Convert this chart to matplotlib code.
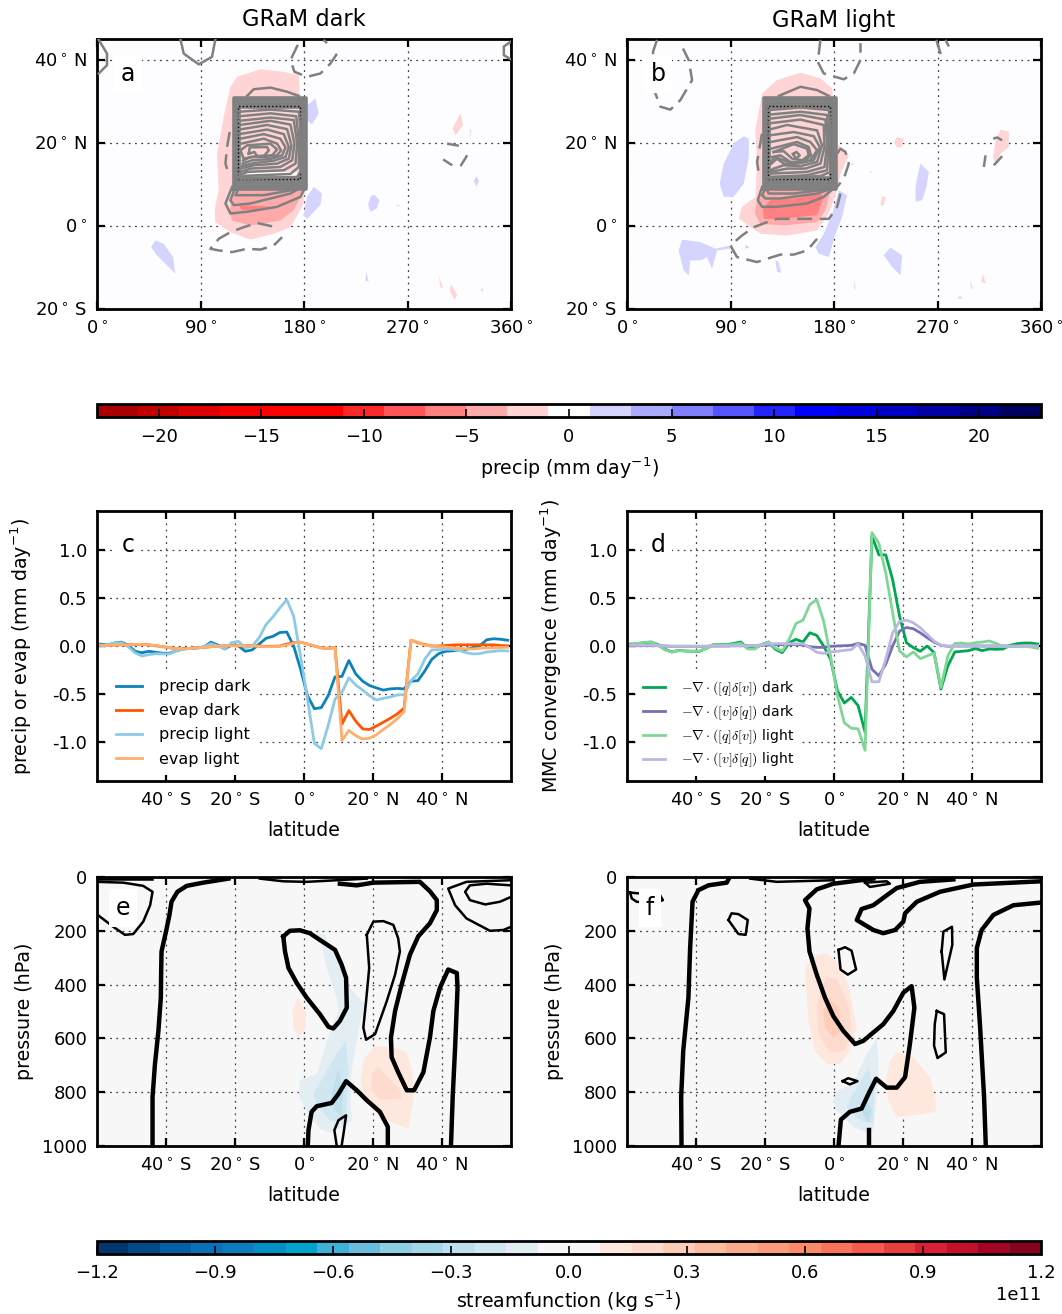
import numpy as np
import matplotlib
matplotlib.use('Agg')
import matplotlib.pyplot as plt
from matplotlib.colors import BoundaryNorm, ListedColormap
from matplotlib.cm import ScalarMappable

# ── Line panels (c, d): latitude grid and series ─────────────────────────────
lat = list(range(-59, 60, 2))

precip_dark = [.02, .01, .03, .04, .01, -.055, -.07, -.055, -.065, -.075, -.075, -.05, -.03, -.025, -.02,
               -.01, .04, .01, -.03, .01, 0, -.055, -.04, .02, .08, .1, .14, .145, 0, -.24,
               -.515, -.65, -.64, -.515, -.32, -.315, -.15, -.29, -.365, -.41, -.435, -.457, -.445, -.44, -.445,
               -.365, -.36, -.26, -.14, -.08, -.055, -.05, -.04, -.035, -.015, .005, .065, .075, .07, .06]
precip_light = [0, .007, .03, .034, -.007, -.07, -.103, -.09, -.08, -.082, -.082, -.05, -.034, -.024, -.024,
                -.007, .024, 0, -.03, .034, .048, -.017, 0, .086, .223, .302, .395, .48, .31, -.103,
                -.55, -1.01, -1.065, -.825, -.55, -.48, -.33, -.405, -.457, -.515, -.56, -.543, -.529, -.508, -.505,
                -.361, -.29, -.137, -.041, -.038, -.034, -.034, -.045, -.07, -.082, -.079, -.062, -.055, -.048, -.052]
evap_dark = [.01, .005, .01, .012, .012, .017, .017, .012, .003, -.007, -.017, -.03, -.03, -.024, -.017,
             -.014, -.007, -.003, .003, .003, .003, .003, .003, 0, -.003, -.003, 0, .02, .035, .04,
             .02, 0, -.02, -.024, -.017, -.81, -.67, -.78, -.86, -.866, -.83, -.79, -.75, -.705, -.645,
             .06, .035, .015, 0, 0, .005, .01, .012, .012, .012, .012, .012, .012, .005, 0]
evap_light = [.01, .005, .01, .012, .012, .017, .017, .012, .003, -.007, -.017, -.03, -.03, -.024, -.017,
              -.014, -.007, -.003, .003, .003, .003, .003, 0, -.003, -.007, -.007, -.003, .01, .03, .04,
              .02, 0, -.02, -.024, -.017, -.98, -.875, -.93, -.965, -.955, -.92, -.865, -.815, -.755, -.68,
              .06, .04, .01, 0, -.007, -.01, -.017, -.024, -.03, -.03, -.024, -.02, -.02, -.014, -.014]

mmc_q_dark = [.02, .024, .034, .041, .014, -.034, -.062, -.045, -.052, -.055, -.055, -.024, .014, .014, .014,
              .027, .041, -.027, -.021, .014, .041, -.034, -.069, .034, .069, .041, .137, .11, 0, -.137,
              -.464, -.591, -.533, -.619, -.893, 1.141, .945, .945, .687, .309, .034, -.017, -.055, 0, -.069,
              -.447, -.206, -.062, -.055, -.048, -.027, -.048, -.031, -.034, -.031, .007, .024, .031, .031, .021]
mmc_q_light = [.014, .027, .038, .041, .007, -.041, -.062, -.048, -.052, -.055, -.052, -.024, .014, .01, .01,
               .017, .027, -.031, -.031, .014, .041, -.021, -.052, .069, .234, .268, .43, .481, .258, -.103,
               -.515, -.797, -.852, -.859, -1.082, 1.175, 1.065, .756, .344, -.052, -.113, -.062, -.131, -.103, -.076,
               -.43, -.103, .027, .031, .021, .034, .041, .052, .027, -.007, -.007, -.003, -.003, -.01, -.024]
mmc_v_dark = [.003, .003, .003, .003, .003, 0, -.003, -.003, -.003, -.003, -.003, -.003, 0, 0, 0,
              .003, .003, .003, .003, .007, .01, .014, .014, .014, .017, .01, -.007, -.014, -.014, -.003,
              0, .003, .007, .027, .007, -.241, -.309, -.189, 0, .155, .192, .179, .137, .086, .041,
              .007, -.003, 0, 0, 0, 0, 0, 0, 0, 0, 0, 0, 0, 0, 0]
mmc_v_light = [.007, .007, .007, .007, .003, 0, -.003, -.003, -.003, -.003, -.003, -.003, 0, 0, .003,
               .003, .003, .003, .003, .014, .021, .024, .024, .024, .024, .024, -.017, -.065, -.076, -.062,
               -.055, -.045, -.038, .021, -.103, -.371, -.371, -.137, .137, .254, .268, .241, .189, .12, .052,
               .007, -.003, 0, 0, 0, 0, 0, 0, 0, 0, 0, 0, 0, 0, 0]

# ── Map panels (a, b): precip bands as (value, outline), lon/lat ──────────────
map_a_fills = [
    (-2, [(142, 37.7), (162.3, 37.1), (175.4, 36.3), (176.3, 31.1), (181.2, 8.6), (178.3, 4.6), (168.1, -.3),
          (153.6, -1.9), (133.4, -3.3), (116, -1.5), (102.9, .9), (102.3, 3.8), (105.8, 8.6), (104.4, 17.4),
          (110.2, 26.3), (116, 33.5), (121.8, 35.9)]),
    (-4, [(118.9, 8.6), (179.7, 8.6), (171, 3.8), (159.4, 1.3), (133.4, .1), (117.4, 1.3), (115.4, 3.8)]),
    (-6, [(123.2, 5), (150.8, 4.7), (136.3, 3.9), (126.2, 3.8)]),
    (0, [(130.5, 13), (174, 13), (174, 11.8), (130.5, 11.8)]),
    (2, [(189.9, 30.7), (192.8, 27.1), (187, 24.4), (182.6, 25.5), (183.2, 29.1)]),
    (2, [(188.4, 9.4), (195.7, 7.8), (194.2, 5), (182.6, 1.7), (179.7, 2.5), (182.6, 7)]),
    (2, [(240.6, 7.6), (245.8, 6.2), (243.4, 4.2), (237.8, 3.4), (235.7, 5), (237.8, 7)]),
    (2, [(261, 5.2), (263.8, 4.9), (261, 4.8)]),
    (2, [(329.9, 12), (332.2, 10.8), (329.9, 9.5), (327.6, 10.8)]),
    (2, [(50.7, -3.5), (58, -4.3), (66.1, -7.5), (68.1, -11.5), (63.8, -10.3), (52.2, -7.1), (47, -5.1)]),
    (2, [(234, -11.1), (236.3, -13.5), (233.4, -13.1)]),
    (2, [(334.8, -14.6), (335.7, -15.7), (334, -15.7)]),
    (-2, [(316, 27.1), (318.3, 24.3), (311.7, 21.8), (309.4, 23.5)]),
    (-2, [(324.1, 23.3), (325.3, 23), (323.8, 20.6)]),
    (-2, [(297.2, -11.9), (300.9, -15.1), (298.6, -14.7)]),
    (-2, [(307.9, -14.1), (313.2, -16.7), (310.8, -17.8), (306.7, -15.5)]),
]
map_b_fills = [
    (-2, [(150.8, 36.9), (168.2, 35.5), (178.4, 33.1), (182.7, 19.8), (192.9, 17), (185.6, 12.6), (182.7, 8.6),
          (175.5, 3), (165.3, -1.1), (139.2, -2.3), (116, -1.9), (97.2, 1.8), (100, 4.6), (111.7, 7), (113.1, 15),
          (111.6, 23), (117.5, 31.9), (130.5, 35.1)]),
    (-4, [(176.9, 8.6), (172.6, 3.8), (165.3, .9), (136.3, .1), (116, .5), (111, 3), (113.1, 6.2), (118.9, 8.6)]),
    (-6, [(168.2, 7.8), (171, 7), (165.3, 2.6), (133.4, 1.7), (118.9, 1.7), (118.3, 4.2), (124.7, 6.2), (145, 6.6)]),
    (2, [(101.5, 21.6), (105.9, 21), (105.9, 16.6), (101.5, 10.2), (92.8, 7), (84.1, 7), (80.6, 10.2), (84.1, 15),
         (92.8, 19.8)]),
    (2, [(184.2, 8.6), (191.4, 7.4), (187, 2.1), (181.3, -1.9), (175.5, -7.5), (166.8, -6.7), (163.9, -5.1),
         (171.1, -1.9), (178.4, 2.9)]),
    (2, [(255.2, 15), (262.5, 13), (260.4, 9.4), (256.7, 6.2), (250.9, 5.8), (250.9, 9.4), (253.8, 13.4)]),
    (2, [(229, -5.2), (239.2, -7.1), (237.8, -11.9), (230.6, -9.9), (223.3, -7.1)]),
    (2, [(47.9, -3.3), (63.8, -3.9), (76.9, -5.5), (89.9, -4.7), (89.9, -5.5), (78.3, -5.9), (74, -10.3),
         (69.6, -7.5), (63.8, -8.3), (55.1, -8.3), (53.7, -11.9), (49.3, -10.7), (44.9, -5.9)]),
    (2, [(129, -8.3), (131.9, -8.7), (134.2, -11.3), (130.5, -11.1)]),
    (2, [(102.9, -4.5), (106.7, -5.2), (102.9, -5.5)]),
    (2, [(289.4, -16.7), (291.5, -17.5), (287.7, -17.5)]),
    (-2, [(234.9, 21.4), (240.7, 21), (239.2, 19), (234.9, 18.9), (232, 20.2)]),
    (-2, [(324.8, 23.2), (332, 22.7), (332, 19), (324.8, 17.4), (320.5, 15), (318.4, 16.6), (320.5, 20.6)]),
    (-2, [(221.9, 7.1), (224.8, 7), (223.3, 5), (220.4, 5)]),
    (-2, [(298.1, -13.1), (300.9, -15.1), (299.3, -15.1)]),
    (-2, [(309.4, -11.5), (311.8, -13.8), (307.9, -13.5)]),
    (-2, [(197.2, -13.1), (199.2, -15.5), (197.2, -14.7)]),
    (-2, [(195.8, 15.2), (197.7, 14.8), (194.9, 14.6)]),
    (-2, [(211.7, 13.2), (213.2, 12.8), (210.3, 12.8)]),
]

# crowded contours along the heating box edge (nested rectangles)
frame_west = [119.5, 120.5, 121.5, 122.5, 123.5]
frame_east = [181.5, 180.5, 179.5, 178.5, 177]
frame_south = [8.9, 9.6, 10.3, 11, 11.6]
frame_north = [30.9, 30.3, 29.7, 29.1, 28.6]

map_a_solid = [
    [(123.8, 27.5), (150.8, 28), (175.5, 27.5), (176.9, 23.1), (177.5, 13.4), (174, 11.8), (133.4, 11.4), (123.8, 11.4)],
    [(123.8, 26.4), (150.8, 27.1), (173.2, 26.4), (175.5, 20.6), (175.5, 14.2), (168.2, 12.5), (130.5, 12.1), (123.8, 11.8)],
    [(123.8, 25.3), (150.8, 26.1), (171.1, 25.5), (174, 19.8), (172.6, 15), (162.4, 13.4), (130.5, 13), (123.8, 12.2)],
    [(123.8, 24.3), (150.8, 25.3), (168.2, 24.4), (171.7, 19.8), (169.7, 15.8), (159.5, 14.2), (133.4, 13.8), (124.7, 13)],
    [(123.8, 23.2), (147.9, 24.3), (165.3, 23.3), (169.1, 19.4), (166.8, 16.2), (156.6, 15), (136.3, 14.6), (125.3, 13.8)],
    [(123.8, 22.1), (147.9, 23.2), (162.4, 22.1), (166.8, 19), (163.9, 16.6), (153.7, 15.7), (136.3, 15.1), (126.2, 14.4)],
    [(124.7, 21), (145, 22.1), (159.5, 21), (163.9, 18.9), (161, 17), (150.8, 16.1), (134.9, 15.8), (126.7, 15)],
    [(125.3, 19.8), (145, 21), (156.6, 19.8), (160.1, 18.2), (156.6, 17), (147.9, 16.6), (133.4, 16.6), (127, 15.7)],
    [(127.6, 16.2), (124.7, 18.2), (130.5, 19.4), (150.8, 19.8), (156.6, 18.4), (152.3, 17), (139.2, 16.8), (127.6, 16.2)],
    [(132, 17.4), (132.8, 18.9), (147.9, 19), (149.4, 18.2), (145, 16.8), (139.2, 16.8), (136.9, 17.8), (132, 17.4)],
    [(117.5, 9.4), (111.7, 5.4), (116, 3), (130.5, 3.4), (156.6, 4.6), (176.9, 7), (181.3, 9.4)],
    [(120.4, 9.4), (116, 6.2), (118.9, 5), (133.4, 5.4), (168.2, 7.8), (178.4, 9.4)],
    [(123.3, 9), (120.4, 7.4), (145, 7.4), (171.1, 8.7)],
    [(130.5, 31.3), (136.3, 32.9), (150.8, 33.3), (165.3, 32.3), (175.5, 31.3)],
    [(72.5, 45), (75.4, 41.5), (88.5, 38.9), (100, 40.7), (103, 45)],
    [(1.5, 44.8), (8.7, 41.5), (8.7, 38.7), (1.5, 36.7)],
    [(360, 44.4), (353.8, 43.2), (353.8, 41.1), (360, 40.1)],
]
map_a_dashed = [
    [(115.4, 22.6), (113.1, 19), (111.7, 15), (114.6, 12.4)],
    [(152.3, -.1), (139.2, .7), (127.6, -.3), (116, -1.5), (105.9, -3.1), (98.6, -5.5), (105.9, -5.9), (117.5, -6.3),
     (130.5, -5.5), (142.1, -5.7), (153.7, -4.7), (161, -2.7)],
    [(174.6, 43.6), (168.2, 39.9), (171.7, 37.1), (182.7, 35.9), (194.3, 36.7), (203, 39.1), (208.8, 41.5)],
    [(197, 44.8), (200, 44)],
    [(304.5, 19.8), (314.7, 19.3)],
    [(301, 16), (308.9, 14.6)],
    [(316.1, 14.4), (321.9, 17)],
]
map_b_solid = [
    [(123.8, 27.9), (150.8, 28.5), (175.5, 27.9), (176.9, 23.1), (176.9, 13), (168.2, 12), (123.8, 11.4)],
    [(123.8, 26.8), (150.8, 27.5), (174, 26.7), (175.5, 20.6), (174, 13.4), (156.6, 12.2), (124.7, 11.8)],
    [(123.8, 25.8), (150.8, 26.7), (172.6, 25.6), (174, 19.8), (171.7, 14.2), (156.6, 13), (124.7, 12.6)],
    [(123.8, 24.7), (150.8, 25.6), (171.1, 24.3), (171.7, 19), (168.2, 15), (155.1, 13.8), (139.2, 13.8), (124.7, 13)],
    [(123.8, 23.2), (139.2, 24.3), (165.3, 23), (169.6, 19.4), (165.3, 15.4), (150.8, 14.4), (136.3, 14.6), (127.6, 13.8), (124.1, 13.2)],
    [(123.8, 21.8), (145, 22.6), (162.4, 21.6), (167.6, 19), (162.4, 15.8), (147.9, 15), (136.3, 15), (130.5, 16.2), (123.8, 14.6)],
    [(124.7, 20.2), (147.9, 21.4), (159.5, 20.2), (165.3, 18.2), (159.5, 15.8), (145, 15), (136.3, 15.8), (129, 16.6), (124.7, 15.4)],
    [(125.3, 18.6), (147.9, 20.2), (158, 19), (160, 17), (153.7, 15.4), (142.1, 15.4), (133.4, 17), (126, 16.6)],
    [(127.6, 17.8), (145, 19.7), (156.6, 18.6), (158, 17), (152.3, 15.8), (143.6, 16.2), (136.3, 18), (127.6, 17.8)],
    [(144.4, 17.3), (147.3, 17.8), (150.2, 17), (147.3, 16.2), (144.4, 17.3)],
    [(117.5, 9.4), (113.7, 6.2), (117.5, 4.6), (130.5, 4.6), (156.6, 5.4), (171.1, 7), (181.3, 9.4)],
    [(120.4, 9), (117.5, 7.4), (120.4, 6.6), (133.4, 6.6), (165.3, 7.8), (178.4, 9)],
    [(121.8, 8.6), (123.3, 7.8), (145, 7.8), (168.2, 8.6)],
    [(132, 31.3), (150.8, 33.5), (165.3, 32.7), (175.5, 31.3)],
]
map_b_dashed = [
    [(26.1, 44.8), (22.6, 41.9), (24.7, 31.9), (29, 28.7), (37.7, 28), (46.4, 30.3), (56.6, 35.1), (53.7, 39.9), (48.7, 42.7)],
    [(168.2, 44.8), (165.9, 39.5), (171.1, 36.7), (188.5, 35.3), (197.2, 36.7), (203, 39.9), (203, 44)],
    [(269, 44.8), (274, 40.3)],
    [(276.9, 44.8), (279.9, 43.2)],
    [(117.4, 22.2), (113.1, 15.4), (114.6, 12.6)],
    [(182.7, 17.4), (185.6, 18.6), (190, 17.8), (192.9, 15), (188.5, 11.4), (182.7, 9.4)],
    [(185.6, 7.8), (182.7, 4.6), (175.5, 1.7), (150.8, 1.7), (130.5, 1.7), (121.8, .9), (110.2, -.3), (100, -2.3),
     (89.9, -4.7), (95.7, -7.5), (113.1, -8.7), (121.8, -7.9), (133.4, -6.9), (145, -6.9), (156.6, -5.9), (165.3, -3.1)],
    [(318.4, 21), (321.9, 21.3), (326.2, 20.6)],
    [(311.8, 17), (310.3, 14.2)],
    [(326.2, 16.8), (319, 14.6)],
]

# ── Streamfunction panels (e, f): bands in 1e11 kg/s, contours, lat/pressure ──
sf_e_fills = [
    (-.12, [(3.7, 213), (6.1, 215), (7.5, 264), (10.4, 326), (13.3, 412), (17.7, 474), (16.2, 547), (14.8, 646),
            (13.8, 720), (13.5, 818), (13.8, 904), (11.4, 929), (7.5, 951), (4.6, 935), (.8, 873), (-1.4, 818),
            (-1.2, 756), (3.7, 732), (6.1, 633), (8, 560), (10, 498), (9.5, 449), (7.5, 375), (6.1, 314), (5.1, 252)]),
    (-.2, [(12.2, 609), (12.9, 720), (12.4, 818), (12.4, 916), (7.5, 904), (3.7, 843), (2.7, 806), (5.6, 744), (9.5, 658)]),
    (-.28, [(10, 713), (11.4, 793), (10.9, 892), (9, 867), (8, 806)]),
    (.12, [(20.1, 630), (25.9, 633), (29.8, 652), (31.5, 732), (31.7, 830), (30.2, 935), (24, 904), (20.1, 867),
           (17.2, 818), (16.4, 756), (17.2, 683)]),
    (.2, [(21.5, 707), (27.8, 793), (28.3, 824), (22, 828), (19.6, 793), (19.6, 732)]),
    (.12, [(-1.9, 449), (.3, 498), (.6, 560), (-1.6, 594), (-3.1, 560), (-3.3, 498)]),
]
sf_f_fills = [
    (.12, [(-8.4, 338), (-6, 292), (-2.1, 283), (.8, 314), (4.2, 400), (6.6, 560), (4.6, 646), (1.7, 695), (-2.1, 695),
           (-5.5, 646), (-7.4, 535)]),
    (.2, [(-2.3, 369), (.8, 381), (4.2, 474), (5.1, 560), (3.2, 646), (-1.2, 652), (-4.5, 584), (-5, 474)]),
    (.28, [(-1.6, 449), (1.3, 486), (2.2, 572), (-.2, 597), (-2.6, 560), (-3.1, 498)]),
    (.12, [(18.2, 652), (23, 670), (27.8, 744), (29.8, 843), (29.3, 873), (23, 886), (18.2, 892), (15.7, 830),
           (15.1, 756), (16.2, 683)]),
    (-.12, [(12.4, 597), (12.9, 695), (12.4, 818), (11.4, 941), (10, 953), (5.6, 929), (.8, 867), (-.2, 830),
            (1.3, 793), (5.6, 769), (8.5, 683)]),
    (-.2, [(10, 707), (11.6, 793), (11.4, 916), (7.5, 904), (3.7, 855), (5.6, 806), (8, 756)]),
    (-.28, [(9.5, 830), (10.9, 867), (10, 916), (8, 867)]),
]
sf_e_thick = [
    [(-43.9, 1000), (-43.9, 818), (-43.2, 695), (-42.2, 572), (-41.5, 449), (-41.4, 350), (-41.3, 277), (-40, 203),
     (-39, 141), (-38.4, 92), (-36.7, 55), (-34, 33), (-29.2, 21), (-21.9, 6)],
    [(-6, 221), (-4.1, 200), (-1.2, 198), (1.7, 209), (4.6, 234), (9, 271), (10.9, 326), (12.2, 375), (12.4, 486),
     (10.4, 535), (8.5, 563), (7.1, 557), (4.6, 510), (.8, 449), (-2.1, 394), (-4.5, 338), (-5.5, 277), (-6, 221)],
    [(24.3, 1000), (24.3, 929), (22, 873), (18.2, 830), (15.3, 793), (12.2, 759), (10, 806), (8, 840), (3.7, 852),
     (2.2, 873), (1.3, 941), (1.1, 1000)],
    [(10.4, 25), (15.3, 31), (20.1, 21), (33.6, 18), (36.5, 53), (38.5, 86), (38.5, 123), (36.5, 172), (33.1, 221),
     (30.7, 289), (28.3, 400), (26.4, 498), (25.2, 597), (25.4, 670), (27.3, 726), (29.8, 793), (31.9, 793), (34.6, 726),
     (36.5, 597), (37.5, 498), (39.4, 412), (41.8, 344), (44.3, 357), (44.5, 412), (43.8, 633), (43.1, 818), (42.6, 1000)],
]
sf_e_thin = [
    [(-60, 18), (-52.4, 21), (-46.6, 33), (-43.9, 55), (-44.6, 105), (-46.6, 166), (-49.5, 212), (-51.9, 215), (-55.3, 185), (-60, 139)],
    [(-60, 8), (-44, 8)],
    [(18.2, 215), (20.1, 166), (23, 164), (25.9, 178), (27.3, 228), (27.8, 277), (26.4, 363), (24, 461), (20.6, 584),
     (18, 605), (17.2, 560), (18, 461), (18.9, 338), (18.2, 215)],
    [(59.9, 12), (47.1, 18), (41.8, 43), (43.8, 105), (47.1, 154), (53.9, 200), (57.8, 197), (60, 185)],
    [(60, 31), (52.9, 25), (48.1, 31), (46.7, 55), (48.1, 86), (52.5, 102), (56.8, 92), (60, 74)],
    [(-12.8, 6), (-6, 16), (.8, 18), (9.5, 12), (18.2, 6)],
    [(9.5, 1000), (8.8, 941), (10, 904), (12.2, 886), (11.6, 941), (10.9, 1000)],
]
sf_f_thick = [
    [(-44.2, 1000), (-44.3, 818), (-43.7, 646), (-42.2, 449), (-41.7, 264), (-41, 92), (-39.3, 49), (-36.4, 31),
     (-31.1, 21), (-30.6, 9)],
    [(11.4, 6), (-.2, 25), (-5, 46), (-8.4, 86), (-7.1, 117), (-7.7, 191), (-7.1, 277), (-5, 363), (-2.6, 449), (-.2, 517),
     (2.7, 572), (6.1, 621), (8.5, 609), (14.3, 547), (17.2, 498), (20.1, 430), (22.5, 406), (23.3, 486), (22, 621),
     (20.6, 744), (18.2, 783), (15.3, 783), (12.2, 750), (10, 806), (8, 861), (4.6, 873), (2, 902), (1.3, 1000)],
    [(60, 16), (40.4, 28), (30.7, 55), (24, 92), (20.6, 135), (20.1, 166), (17.7, 197), (14.3, 209), (11.4, 197), (6.6, 160),
     (8, 119), (11.4, 105), (15.3, 68), (18.2, 41), (24.9, 18), (34.6, 9)],
    [(44, 1000), (43.5, 818), (42.3, 547), (41.4, 375), (41.4, 264), (42.8, 197), (46.2, 141), (52, 105), (60, 95)],
    [(10, 1000), (10, 941)],
]
sf_f_thin = [
    [(-30.6, 160), (-29.7, 135), (-27.7, 138), (-25, 160), (-25.6, 215), (-27.7, 212), (-30.6, 160)],
    [(1.3, 271), (3.2, 261), (5.1, 274), (6.4, 344), (4, 363), (1.9, 344), (1.3, 271)],
    [(31.2, 277), (31.7, 203), (34.2, 185), (34.3, 252), (32, 381), (31.2, 277)],
    [(29.8, 498), (31.9, 510), (32.4, 652), (30, 673), (29, 627), (29.2, 547), (29.8, 498)],
    [(2.5, 759), (4.1, 748), (6.8, 759), (4.6, 771), (2.5, 759)],
    [(-59.1, 58), (-50.4, 68), (-49.6, 86), (-52.4, 98), (-57.2, 92), (-58.6, 80), (-59.1, 58)],
    [(-24.3, 6), (-16.6, 18), (-.2, 12)],
    [(9, 21), (15.3, 16), (16.2, 25), (10.4, 37), (9, 21)],
]

# ── Tick labels and colour levels ─────────────────────────────────────────────
map_xticks = [0, 90, 180, 270, 360]
map_yticks = [-20, 0, 20, 40]
map_ylabels = ['$20^\\circ$\u2009S', '$0^\\circ$', '$20^\\circ$\u2009N', '$40^\\circ$\u2009N']
map_xlabels = ['$0^\\circ$', '$90^\\circ$', '$180^\\circ$', '$270^\\circ$', '$360^\\circ$']
lat_ticks = [-40, -20, 0, 20, 40]
lat_labels = ['$40^\\circ$\u2009S', '$20^\\circ$\u2009S', '$0^\\circ$', '$20^\\circ$\u2009N', '$40^\\circ$\u2009N']
flux_ticks = [-1.0, -0.5, 0.0, 0.5, 1.0]
pressure_ticks = [0, 200, 400, 600, 800, 1000]
precip_levels = np.arange(-23, 24, 2)
precip_ticks = [-20, -15, -10, -5, 0, 5, 10, 15, 20]
precip_colors = ['#AA0000', '#C30000', '#DC0000', '#F30000', '#FF0000', '#FF0000', '#FF2828', '#FF5555',
                 '#FF8080', '#FFAAAA', '#FFD4D4', '#FFFFFF', '#D4D4FF', '#AAAAFF', '#8080FF', '#5555FF',
                 '#2424FF', '#0000FF', '#0000E1', '#0000C3', '#0000A5', '#000087', '#00005F']
sf_levels = np.arange(-15, 16) * 0.08e11
sf_ticks = np.arange(-4, 5) * 0.3e11
sf_colors = ['#03356E', '#004A8C', '#0060A8', '#0A70B8', '#0A7FC0', '#0090C4', '#00A3CE', '#3FB0D6',
             '#68BEDC', '#8ACFE4', '#A4D6E8', '#BDE0EC', '#D0E6F1', '#E2EEF4', '#F7F7F7',
             '#F7F7F7', '#FEE8DE', '#FDDCCF', '#FDCDB8', '#FDBB9F', '#FDAB8C', '#FD9A78', '#FC8A69',
             '#FA7358', '#F4594C', '#E83E3F', '#D91F34', '#C30F2A', '#A40527', '#860220']

# ── Style ─────────────────────────────────────────────────────────────────────
plt.rcParams['font.size'] = 13
plt.rcParams['font.family'] = ['DejaVu Sans']

W, H = 1062, 1314
fig = plt.figure(figsize=(W / 100, H / 100), dpi=100)


def add_axes_px(left, top, right, bottom):
    return fig.add_axes([left / W, 1 - bottom / H, (right - left) / W, (bottom - top) / H])


def precip_color(v):
    return precip_colors[int(np.searchsorted(precip_levels, v)) - 1]


def sf_color(v):
    return sf_colors[int(np.searchsorted(sf_levels, v * 1e11)) - 1]


def style_axes(ax, letter, lx, ly):
    for s in ax.spines.values():
        s.set_linewidth(2)
    ax.tick_params(direction='in', top=True, right=True, length=6, width=1.6, pad=8, labelsize=13)
    ax.tick_params(axis='y', pad=7)
    ax.grid(True, linestyle=(0, (1.5, 3.5)), color='#444444', linewidth=0.9, zorder=1)
    ax.set_axisbelow(True)
    ax.text(lx, ly, letter, transform=ax.transAxes, fontsize=17, va='center', ha='center', zorder=6,
            bbox=dict(facecolor='white', edgecolor='none', pad=5))


def draw_map(ax, fills, solid, dashed, title, letter):
    ax.set_facecolor('#FDFDFF')
    for v, outline in fills:
        xs, ys = zip(*outline)
        ax.fill(xs, ys, color=precip_color(v), linewidth=0, zorder=2)
    for w, e, s, n in zip(frame_west, frame_east, frame_south, frame_north):
        ax.plot([w, e, e, w, w], [s, s, n, n, s], color='gray', lw=2.6, zorder=3)
    ax.plot([123, 176.5, 176.5, 123, 123], [11.2, 11.2, 28.8, 28.8, 11.2], color='k', lw=1, ls=':', zorder=3)
    for line in solid:
        xs, ys = zip(*line)
        ax.plot(xs, ys, color='gray', lw=1.8, zorder=4)
    for line in dashed:
        xs, ys = zip(*line)
        ax.plot(xs, ys, color='gray', lw=1.8, dashes=(6, 3), zorder=4)
    ax.set_xlim(0, 360)
    ax.set_ylim(-20, 45)
    ax.set_xticks(map_xticks)
    ax.set_xticklabels(map_xlabels)
    ax.set_yticks(map_yticks)
    ax.set_yticklabels(map_ylabels)
    ax.set_title(title, fontsize=16.3, pad=9)
    style_axes(ax, letter, 0.075, 0.87)


def draw_lat_axis(ax):
    ax.set_xlim(-60, 60)
    ax.set_xticks(lat_ticks)
    ax.set_xticklabels(lat_labels)
    ax.set_xlabel('latitude', fontsize=13.7, labelpad=8)


def draw_lines(ax, series, ylabel, letter, fontsize, spacing, anchor, math=False):
    for values, color, label in series:
        ax.plot(lat, np.array(values), color=color, lw=2, label=label, zorder=3)
    draw_lat_axis(ax)
    ax.set_ylim(-1.4, 1.4)
    ax.set_yticks(flux_ticks)
    ax.set_yticklabels(['%.1f' % t for t in flux_ticks])
    ax.set_ylabel(ylabel, fontsize=13.7)
    ax.yaxis.set_label_coords(-0.152, 0.5)
    style_axes(ax, letter, 0.075, 0.875)
    leg = ax.legend(loc='lower left', bbox_to_anchor=anchor, fontsize=fontsize, labelspacing=spacing, borderpad=0.5,
                    handlelength=1.6, handletextpad=1.1, frameon=True, facecolor='white', edgecolor='none',
                    framealpha=1, borderaxespad=0)
    if math:
        for t in leg.get_texts():
            t.set_math_fontfamily('cm')


def draw_sf(ax, fills, thick, thin, letter, lx, ly):
    ax.set_facecolor('#F7F7F7')
    for v, outline in fills:
        xs, ys = zip(*outline)
        ax.fill(xs, ys, color=sf_color(v), linewidth=0, zorder=2)
    for line in thick:
        xs, ys = zip(*line)
        ax.plot(xs, ys, color='k', lw=3.2, zorder=4)
    for line in thin:
        xs, ys = zip(*line)
        ax.plot(xs, ys, color='k', lw=1.8, zorder=4)
    draw_lat_axis(ax)
    ax.set_ylim(1000, 0)
    ax.set_yticks(pressure_ticks)
    ax.set_ylabel('pressure (hPa)', fontsize=13.7)
    ax.yaxis.set_label_coords(-0.152, 0.5)
    style_axes(ax, letter, lx, ly)


# ── Panels ────────────────────────────────────────────────────────────────────
draw_map(add_axes_px(97, 39, 511, 309), map_a_fills, map_a_solid, map_a_dashed, 'GRaM dark', 'a')
draw_map(add_axes_px(627, 39, 1041, 309), map_b_fills, map_b_solid, map_b_dashed, 'GRaM light', 'b')

draw_lines(add_axes_px(97, 511, 511, 781),
           [(precip_dark, '#0A83BC', 'precip dark'),
            (evap_dark, '#FF5500', 'evap dark'),
            (precip_light, '#8CCBE6', 'precip light'),
            (evap_light, '#FFAE6B', 'evap light')],
           'precip or evap (mm day$^{-1}$)', 'c', 11.5, 0.57, (0.027, 0.024))
draw_lines(add_axes_px(627, 511, 1041, 781),
           [(mmc_q_dark, '#00A650', '$-\\nabla\\cdot([q]\\delta[v])$ dark'),
            (mmc_v_dark, '#7570B3', '$-\\nabla\\cdot([v]\\delta[q])$ dark'),
            (mmc_q_light, '#7FD796', '$-\\nabla\\cdot([q]\\delta[v])$ light'),
            (mmc_v_light, '#BAB8E0', '$-\\nabla\\cdot([v]\\delta[q])$ light')],
           'MMC convergence (mm day$^{-1}$)', 'd', 10, 0.38, (0.022, 0.017), math=True)

draw_sf(add_axes_px(97, 877, 511, 1146), sf_e_fills, sf_e_thick, sf_e_thin, 'e', 0.062, 0.885)
draw_sf(add_axes_px(627, 877, 1041, 1146), sf_f_fills, sf_f_thick, sf_f_thin, 'f', 0.056, 0.885)

# ── Colour bars ───────────────────────────────────────────────────────────────
cb1_ax = add_axes_px(97, 404, 1041, 417)
sm1 = ScalarMappable(norm=BoundaryNorm(precip_levels, len(precip_colors)), cmap=ListedColormap(precip_colors))
cb1 = fig.colorbar(sm1, cax=cb1_ax, orientation='horizontal', spacing='proportional', ticks=precip_ticks)
cb1.ax.minorticks_off()
cb1.ax.tick_params(direction='in', length=6, width=1.2, pad=8, labelsize=13)
cb1.outline.set_linewidth(2)
cb1.set_label('precip (mm day$^{-1}$)', fontsize=13.7, labelpad=6.5)

cb2_ax = add_axes_px(97, 1241, 1041, 1254)
sm2 = ScalarMappable(norm=BoundaryNorm(sf_levels, len(sf_colors)), cmap=ListedColormap(sf_colors))
cb2 = fig.colorbar(sm2, cax=cb2_ax, orientation='horizontal', spacing='proportional', ticks=sf_ticks)
cb2.ax.minorticks_off()
cb2.ax.tick_params(direction='in', length=6, width=1.2, pad=7, labelsize=13)
cb2.outline.set_linewidth(2)
cb2.set_label('streamfunction (kg s$^{-1}$)', fontsize=13.7, labelpad=5)

fig.savefig('out.png', dpi=100)
